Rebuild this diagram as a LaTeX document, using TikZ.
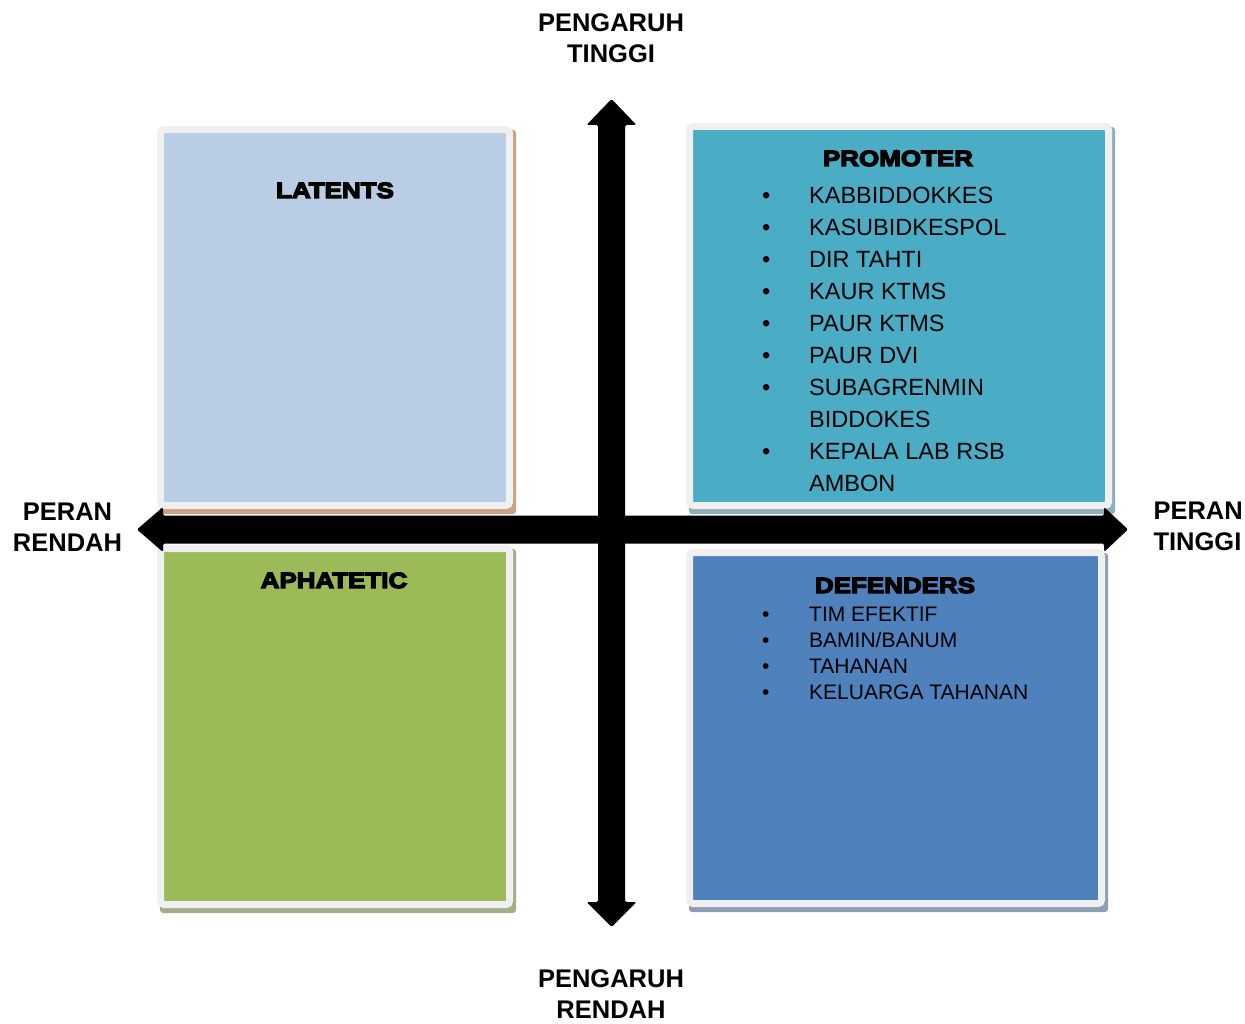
\documentclass[tikz,border=0pt]{standalone}
\usepackage{fontspec}
\setmainfont{Liberation Sans}
\newfontfamily\headfont{Liberation Sans}[BoldFeatures={FakeBold=6,FakeStretch=1.18}]
\usetikzlibrary{backgrounds}
\definecolor{boxgray}{HTML}{F0F0F0}
\definecolor{latfill}{HTML}{B9CDE5}
\definecolor{latshade}{HTML}{CDA282}
\definecolor{profill}{HTML}{4BACC6}
\definecolor{proshade}{HTML}{8FAFB8}
\definecolor{aphfill}{HTML}{9BBB59}
\definecolor{aphshade}{HTML}{A4AE8C}
\definecolor{deffill}{HTML}{4F81BD}
\definecolor{defshade}{HTML}{8E9EB5}
\begin{document}
\begin{tikzpicture}[x=1pt,y=-1pt,
  quad/.style={draw=boxgray,line width=7pt,rounded corners=3.5pt,inner sep=0pt},
  shade/.style={rounded corners=3pt},
  heading/.style={font=\fontsize{22}{26}\selectfont\headfont\bfseries,anchor=base},
  axislabel/.style={font=\fontsize{25.5}{31}\selectfont\bfseries,align=center,anchor=base},
  itemlist/.style={anchor=base west,inner sep=0pt},
  axisarrow/.style={fill=black,rounded corners=1.5pt}]
\useasboundingbox (0,0) rectangle (1245,1024);
% quadrants
\node[quad,fill=latfill,minimum width=349pt,minimum height=376pt] (latents) at (335,317.5) {};
\node[quad,fill=profill,minimum width=419pt,minimum height=379pt] (promoter) at (899,316) {};
\node[quad,fill=aphfill,minimum width=349pt,minimum height=356pt] (aphatetic) at (335,726.5) {};
\node[quad,fill=deffill,minimum width=412pt,minimum height=351pt] (defenders) at (895.5,728) {};
\begin{scope}[on background layer]
\fill[shade,latshade] ([shift={(3,4)}]latents.north west) rectangle ([shift={(3,5)}]latents.south east);
\fill[shade,proshade] ([shift={(3,4)}]promoter.north west) rectangle ([shift={(3,5)}]promoter.south east);
\fill[shade,aphshade] ([shift={(3,4)}]aphatetic.north west) rectangle ([shift={(3,5)}]aphatetic.south east);
\fill[shade,defshade] ([shift={(3,4)}]defenders.north west) rectangle ([shift={(3,5)}]defenders.south east);
\end{scope}
% headings and lists
\node[heading] (lathead) at (335,198) {LATENTS};
\node[heading] (prohead) at (898,166) {PROMOTER};
\node[heading] (aphhead) at (334,588) {APHATETIC};
\node[heading] (defhead) at (895,593) {DEFENDERS};
\node[itemlist,font=\fontsize{23.5}{32}\selectfont] (prolist) at (762,203.5) {%
\begin{tabular}[t]{@{}p{47pt}@{}l@{}}
\textbullet & KABBIDDOKKES\\
\textbullet & KASUBIDKESPOL\\
\textbullet & DIR TAHTI\\
\textbullet & KAUR KTMS\\
\textbullet & PAUR KTMS\\
\textbullet & PAUR DVI\\
\textbullet & SUBAGRENMIN\\
 & BIDDOKES\\
\textbullet & KEPALA LAB RSB\\
 & AMBON
\end{tabular}};
\node[itemlist,font=\fontsize{21}{26}\selectfont] (deflist) at (762,621) {%
\begin{tabular}[t]{@{}p{47pt}@{}l@{}}
\textbullet & TIM EFEKTIF\\
\textbullet & BAMIN/BANUM\\
\textbullet & TAHANAN\\
\textbullet & KELUARGA TAHANAN
\end{tabular}};
% axes
\fill[axisarrow] (611.5,99) -- (636.5,125) -- (625,125) -- (625,902) -- (636.5,902)
  -- (611.5,927) -- (586.5,902) -- (598,902) -- (598,125) -- (586.5,125) -- cycle;
\fill[axisarrow] (137,529.5) -- (163,507) -- (163,515.5) -- (1104,515.5) -- (1104,507)
  -- (1128,529.5) -- (1104,552) -- (1104,543.5) -- (163,543.5) -- (163,552) -- cycle;
\node[axislabel] (toplabel) at (611,63) {PENGARUH\\TINGGI};
\node[axislabel] (botlabel) at (611,1018) {PENGARUH\\RENDAH};
\node[axislabel] (leftlabel) at (67.5,551) {PERAN\\RENDAH};
\node[axislabel,align=left,anchor=base west] (rightlabel) at (1150,550) {PERAN\\TINGGI};
\end{tikzpicture}
\end{document}
